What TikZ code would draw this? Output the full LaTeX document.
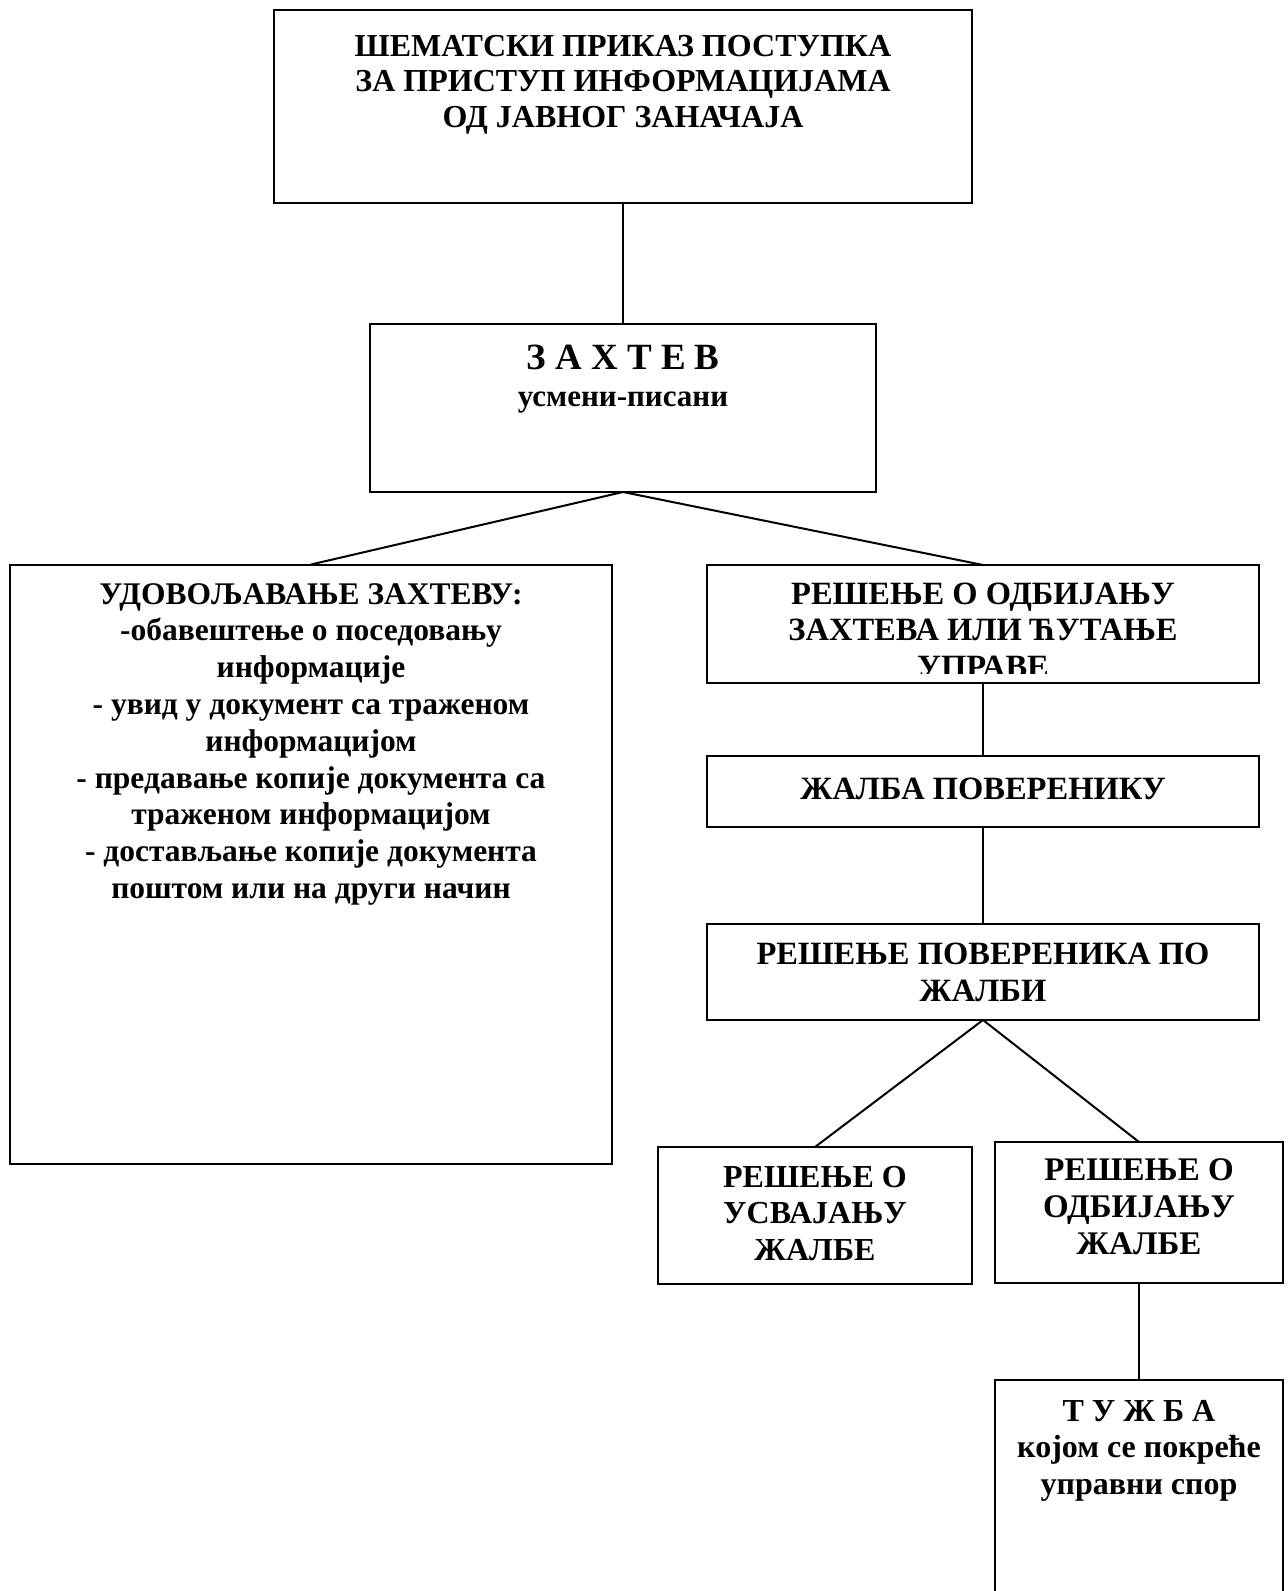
\documentclass[tikz,border=0pt]{standalone}
\usepackage{fontspec}
\setmainfont{Liberation Serif}
\tikzset{
  box/.style={draw=black, line width=2pt, rectangle, inner sep=0pt, outer sep=0pt},
  conn/.style={draw=black, line width=2pt},
  txt/.style={inner sep=0pt, outer sep=0pt, align=center, anchor=base,
    font=\bfseries\fontsize{32}{36.6}\selectfont},
}
\begin{document}
\begin{tikzpicture}[x=1pt,y=-1pt]
\useasboundingbox (0,0) rectangle (1288,1591);
\clip (0,0) rectangle (1288,1591);
% boxes
\node[box, minimum width=698, minimum height=193] (top) at (623,106.5) {};
\node[box, minimum width=506, minimum height=168] (zah) at (623,408) {};
\node[box, minimum width=602, minimum height=599] (left) at (311,864) {};
\node[box, minimum width=552, minimum height=118] (r1) at (983,624) {};
\node[box, minimum width=552, minimum height=71] (zal) at (983,791.5) {};
\node[box, minimum width=552, minimum height=96] (pov) at (983,972) {};
\node[box, minimum width=314, minimum height=137] (usv) at (815,1215.5) {};
\node[box, minimum width=288, minimum height=141] (odb) at (1139,1212.5) {};
\node[box, minimum width=288, minimum height=260] (tuz) at (1139,1510) {};
% connectors
\draw[conn] (top.south) -- (zah.north);
\draw[conn] (zah.south) -- (left.north);
\draw[conn] (zah.south) -- (r1.north);
\draw[conn] (r1.south) -- (zal.north);
\draw[conn] (zal.south) -- (pov.north);
\draw[conn] (pov.south) -- (usv.north);
\draw[conn] (pov.south) -- (odb.north);
\draw[conn] (odb.south) -- (tuz.north);
% texts (anchor = baseline of last line)
\node[txt, font=\bfseries\fontsize{32}{35.5}\selectfont] (toptext) at (623,127)
  {ШЕМАТСКИ ПРИКАЗ ПОСТУПКА\\ЗА ПРИСТУП ИНФОРМАЦИЈАМА\\ОД ЈАВНОГ ЗАНАЧАЈА};
\node[txt, font=\bfseries\fontsize{37}{40}\selectfont] (zt1) at (623,369) {З А Х Т Е В};
\node[txt, font=\bfseries\fontsize{31}{36}\selectfont] (zt2) at (623,406) {усмени-писани};
\node[txt, font=\bfseries\fontsize{31.5}{36.8}\selectfont] (lefttext) at (311,898.4)
  {УДОВОЉАВАЊЕ ЗАХТЕВУ:\\-обавештење о поседовању\\информације\\- увид у документ са траженом\\информацијом\\- предавање копије документа са\\траженом информацијом\\- достављање копије документа\\поштом или на други начин};
\begin{scope}
  \clip (708,566) rectangle (1258,673);
  \node[txt, font=\bfseries\fontsize{32.5}{36.5}\selectfont] (r1text) at (983,677)
    {РЕШЕЊЕ О ОДБИЈАЊУ\\ЗАХТЕВА ИЛИ ЋУТАЊЕ\\УПРАВЕ};
\end{scope}
\node[txt, font=\bfseries\fontsize{32.5}{36.5}\selectfont] (zaltext) at (983,799) {ЖАЛБА ПОВЕРЕНИКУ};
\node[txt, font=\bfseries\fontsize{32.5}{37.5}\selectfont] (povtext) at (983,1001.5) {РЕШЕЊЕ ПОВЕРЕНИКА ПО\\ЖАЛБИ};
\node[txt, font=\bfseries\fontsize{32}{36.5}\selectfont] (usvtext) at (815,1260) {РЕШЕЊЕ О\\УСВАЈАЊУ\\ЖАЛБЕ};
\node[txt, font=\bfseries\fontsize{33}{37}\selectfont] (odbtext) at (1139,1254) {РЕШЕЊЕ О\\ОДБИЈАЊУ\\ЖАЛБЕ};
\node[txt, font=\bfseries\fontsize{32}{36.5}\selectfont] (tuztext) at (1139,1494) {Т У Ж Б А\\којом се покреће\\управни спор};
\end{tikzpicture}
\end{document}
